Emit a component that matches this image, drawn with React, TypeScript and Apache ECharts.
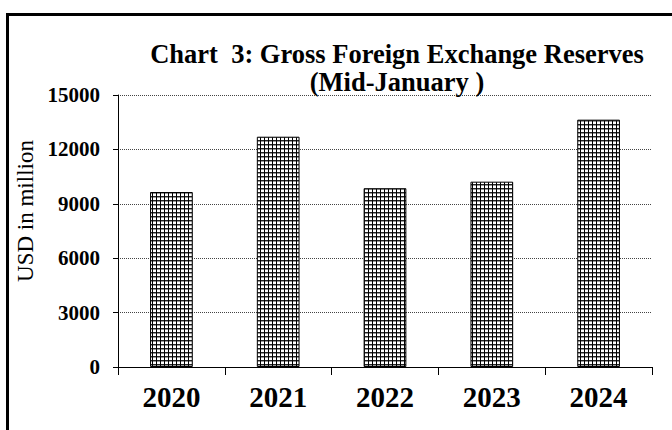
import React, { useEffect, useRef } from "react";
import * as echarts from "echarts";

const categories = ["2020", "2021", "2022", "2023", "2024"];
const reserves = [9650, 12700, 9860, 10220, 13640];
const yMin = 0;
const yMax = 15000;
const yInterval = 3000;
const titleLines = ["Chart  3: Gross Foreign Exchange Reserves", "(Mid-January )"];
const yAxisName = "USD in million";

const FONT = "'Liberation Serif', 'Times New Roman', serif";

function makePattern(): HTMLCanvasElement {
  const c = document.createElement("canvas");
  c.width = 4;
  c.height = 4;
  const ctx = c.getContext("2d")!;
  ctx.fillStyle = "#ffffff";
  ctx.fillRect(0, 0, 4, 4);
  ctx.fillStyle = "#222222";
  ctx.fillRect(0, 0, 4, 1);
  ctx.fillStyle = "#999999";
  ctx.fillRect(0, 1, 4, 1);
  ctx.fillStyle = "#000000";
  ctx.fillRect(0, 0, 1, 4);
  return c;
}

export default function App() {
  const ref = useRef<HTMLDivElement>(null);
  useEffect(() => {
    document.body.style.margin = "0";
    const chart = echarts.init(ref.current!, undefined, { renderer: "svg" });
    const pattern = makePattern();
    chart.setOption({
      animation: false,
      backgroundColor: "#ffffff",
      title: {
        text: titleLines.join("\n"),
        left: 392,
        top: 35,
        textAlign: "center",
        textStyle: {
          fontFamily: FONT,
          fontWeight: "bold",
          fontSize: 26.5,
          lineHeight: 28,
          color: "#000",
        },
      },
      graphic: [
        {
          type: "rect",
          shape: { x: 7.5, y: 14.5, width: 720, height: 460 },
          style: { fill: "none", stroke: "#000", lineWidth: 3 },
          silent: true,
        },
      ],
      grid: { left: 118, right: 20, top: 95, bottom: 63, containLabel: false },
      xAxis: {
        type: "category",
        data: categories,
        axisLine: { show: true, lineStyle: { color: "#000", width: 1 } },
        axisTick: { show: true, length: 8, alignWithLabel: false, lineStyle: { color: "#000" } },
        axisLabel: {
          fontFamily: FONT,
          fontWeight: "bold",
          fontSize: 29,
          color: "#000",
          margin: 15,
        },
        splitLine: { show: false },
      },
      yAxis: {
        type: "value",
        min: yMin,
        max: yMax,
        interval: yInterval,
        name: yAxisName,
        nameLocation: "middle",
        nameGap: 64,
        nameRotate: 90,
        nameTextStyle: { fontFamily: FONT, fontSize: 23, color: "#000", padding: [0, 0, 0, 40] },
        axisLine: { show: true, lineStyle: { color: "#000", width: 1 } },
        axisTick: { show: true, length: 5, lineStyle: { color: "#000" } },
        axisLabel: {
          fontFamily: FONT,
          fontWeight: "bold",
          fontSize: 21,
          color: "#000",
          margin: 18,
          formatter: (v: number) => String(v),
        },
        splitLine: { show: true, lineStyle: { color: "#444", type: [1, 1], width: 1 } },
      },
      series: [
        {
          type: "bar",
          data: reserves,
          barWidth: "40%",
          itemStyle: {
            color: { image: pattern, repeat: "repeat", imageWidth: 4, imageHeight: 4 },
            borderColor: "#000",
            borderWidth: 1,
          },
        },
      ],
    });
    return () => chart.dispose();
  }, []);
  return <div ref={ref} style={{ width: 672, height: 430 }} />;
}
